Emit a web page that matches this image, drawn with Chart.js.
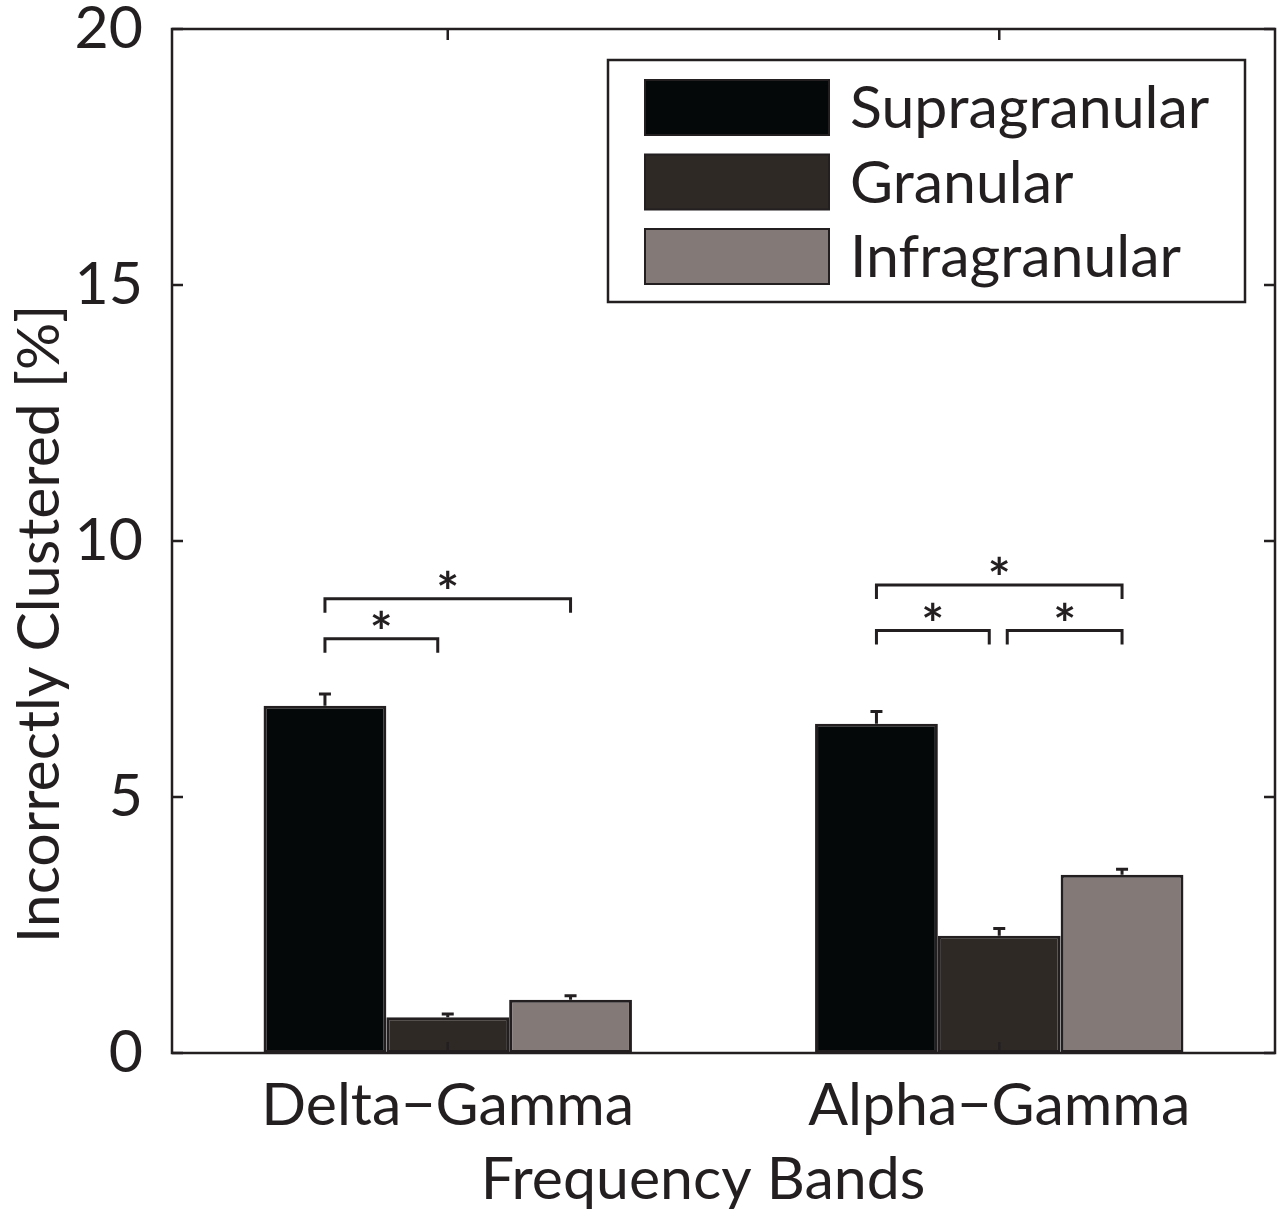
<!DOCTYPE html>
<html>
<head>
<meta charset="utf-8">
<script src="https://cdn.jsdelivr.net/npm/chart.js@4.4.1/dist/chart.umd.min.js"></script>
<style>
    html, body { margin: 0; padding: 0; background: #fff; }
    #wrap { width: 1281px; height: 1212px; }
</style>
</head>
<body>
<div id="wrap"><canvas id="chartClusters" width="1281" height="1212"></canvas></div>
<script>
// ====================================
// DATOS
// ====================================

const categorias = ['Delta\u2212Gamma', 'Alpha\u2212Gamma'];
const capas = ['Supragranular', 'Granular', 'Infragranular'];

const supragranular = [6.78, 6.43];
const granular = [0.70, 2.29];
const infragranular = [1.04, 3.48];

// error estandar (solo hacia arriba)
const errSupragranular = [0.23, 0.24];
const errGranular = [0.06, 0.14];
const errInfragranular = [0.08, 0.11];

const yTicks = [0, 5, 10, 15, 20];

// comparaciones significativas: grupo, capa desde, capa hasta, altura
const corchetes = [
    { grupo: 0, desde: 0, hasta: 1, y: 8.09 },
    { grupo: 0, desde: 0, hasta: 2, y: 8.87 },
    { grupo: 1, desde: 0, hasta: 1, y: 8.25 },
    { grupo: 1, desde: 1, hasta: 2, y: 8.25 },
    { grupo: 1, desde: 0, hasta: 2, y: 9.14 }
];

const COLORES = ['#050809', '#2f2926', '#837a78'];
const BORDE = '#231f20';
const FUENTE = 'Lato, "Open Sans", sans-serif';
const TAM = 59;

// ====================================
// PLUGINS
// ====================================

// caja del eje estilo matlab, con marcas hacia adentro
const cajaEjes = {
    id: 'cajaEjes',
    afterDraw(chart) {
        const { ctx, chartArea: a, scales } = chart;
        const largo = 11;
        ctx.save();
        ctx.strokeStyle = BORDE;
        ctx.lineWidth = 2.5;
        ctx.strokeRect(a.left, a.top, a.right - a.left, a.bottom - a.top);
        ctx.beginPath();
        yTicks.forEach(v => {
            const y = scales.y.getPixelForValue(v);
            ctx.moveTo(a.left, y); ctx.lineTo(a.left + largo, y);
            ctx.moveTo(a.right, y); ctx.lineTo(a.right - largo, y);
        });
        categorias.forEach((c, i) => {
            const x = scales.x.getPixelForValue(i);
            ctx.moveTo(x, a.bottom); ctx.lineTo(x, a.bottom - largo);
            ctx.moveTo(x, a.top); ctx.lineTo(x, a.top + largo);
        });
        ctx.stroke();
        ctx.restore();
    }
};

const errores = [errSupragranular, errGranular, errInfragranular];

function drawErrorBars(chart) {
    const { ctx, scales } = chart;
    ctx.save();
    ctx.strokeStyle = BORDE;
    ctx.lineWidth = 3;
    chart.data.datasets.forEach((ds, d) => {
        const meta = chart.getDatasetMeta(d);
        meta.data.forEach((bar, i) => {
            const tope = scales.y.getPixelForValue(ds.data[i] + errores[d][i]);
            ctx.beginPath();
            ctx.moveTo(bar.x, bar.y);
            ctx.lineTo(bar.x, tope);
            ctx.moveTo(bar.x - 6, tope);
            ctx.lineTo(bar.x + 6, tope);
            ctx.stroke();
        });
    });
    ctx.restore();
}

function drawBrackets(chart) {
    const { ctx, scales } = chart;
    const bajada = 14;
    ctx.save();
    ctx.strokeStyle = BORDE;
    ctx.fillStyle = BORDE;
    ctx.lineWidth = 3;
    ctx.font = 'bold 54px ' + FUENTE;
    ctx.textAlign = 'center';
    ctx.textBaseline = 'alphabetic';
    corchetes.forEach(c => {
        let x1 = chart.getDatasetMeta(c.desde).data[c.grupo].x;
        let x2 = chart.getDatasetMeta(c.hasta).data[c.grupo].x;
        // separar los corchetes que llegan a la barra del medio
        if (c.desde === 1) x1 += 8;
        if (c.hasta === 1) x2 -= 10;
        const y = scales.y.getPixelForValue(c.y);
        ctx.beginPath();
        ctx.moveTo(x1, y + bajada);
        ctx.lineTo(x1, y);
        ctx.lineTo(x2, y);
        ctx.lineTo(x2, y + bajada);
        ctx.stroke();
        ctx.fillText('*', (x1 + x2) / 2, y + 12);
    });
    ctx.restore();
}

const extras = {
    id: 'extras',
    afterDatasetsDraw(chart) {
        drawErrorBars(chart);
        drawBrackets(chart);
    }
};

// leyenda dentro del area del grafico, arriba a la derecha
const leyenda = {
    id: 'leyenda',
    afterDraw(chart) {
        const ctx = chart.ctx;
        ctx.save();
        ctx.strokeStyle = BORDE;
        ctx.lineWidth = 2.5;
        ctx.fillStyle = '#fff';
        ctx.fillRect(608, 60, 637, 242);
        ctx.strokeRect(608, 60, 637, 242);
        ctx.font = TAM + 'px ' + FUENTE;
        ctx.textBaseline = 'middle';
        ctx.textAlign = 'left';
        chart.data.datasets.forEach((ds, i) => {
            const top = 80 + i * 74.5;
            ctx.fillStyle = ds.backgroundColor;
            ctx.fillRect(645, top, 184, 55);
            ctx.lineWidth = 2;
            ctx.strokeRect(645, top, 184, 55);
            ctx.fillStyle = '#231f20';
            ctx.fillText(ds.label, 850, top + 29);
        });
        ctx.restore();
    }
};

// titulos de los ejes
const titulos = {
    id: 'titulos',
    afterDraw(chart) {
        const ctx = chart.ctx;
        ctx.save();
        ctx.fillStyle = '#231f20';
        ctx.font = TAM + 'px ' + FUENTE;
        ctx.textAlign = 'center';
        ctx.textBaseline = 'middle';
        ctx.fillText('Frequency Bands', 703, 1180);
        ctx.translate(40, 624);
        ctx.rotate(-Math.PI / 2);
        ctx.fillText('Incorrectly Clustered [%]', 0, 0);
        ctx.restore();
    }
};

// ====================================
// GRAFICO
// ====================================

function crearGrafico() {
    const ctx = document.getElementById('chartClusters');
    const series = [supragranular, granular, infragranular];

    new Chart(ctx, {
        type: 'bar',
        data: {
            labels: categorias,
            datasets: capas.map((capa, i) => ({
                label: capa,
                data: series[i],
                backgroundColor: COLORES[i],
                borderColor: BORDE,
                borderWidth: 3,
                borderSkipped: false,
                categoryPercentage: 0.668,
                barPercentage: 1
            }))
        },
        options: {
            responsive: false,
            animation: false,
            devicePixelRatio: 1,
            layout: { padding: { top: 29, right: 6, left: 0, bottom: 0 } },
            plugins: {
                legend: { display: false },
                tooltip: { enabled: false }
            },
            scales: {
                x: {
                    grid: { display: false },
                    border: { display: false },
                    ticks: {
                        color: '#231f20',
                        font: { family: FUENTE, size: TAM },
                        padding: 10
                    },
                    afterFit: s => {
                        s.height = 159;
                        s.paddingLeft = 0;
                        s.paddingRight = 0;
                    }
                },
                y: {
                    min: 0,
                    max: 20,
                    grid: { display: false },
                    border: { display: false },
                    afterBuildTicks: s => { s.ticks = yTicks.map(v => ({ value: v })); },
                    ticks: {
                        color: '#231f20',
                        font: { family: FUENTE, size: TAM },
                        padding: 21
                    },
                    afterFit: s => {
                        s.width = 172;
                        s.paddingTop = 0;
                        s.paddingBottom = 0;
                    }
                }
            }
        },
        plugins: [cajaEjes, extras, leyenda, titulos]
    });
}

crearGrafico();
</script>
</body>
</html>
